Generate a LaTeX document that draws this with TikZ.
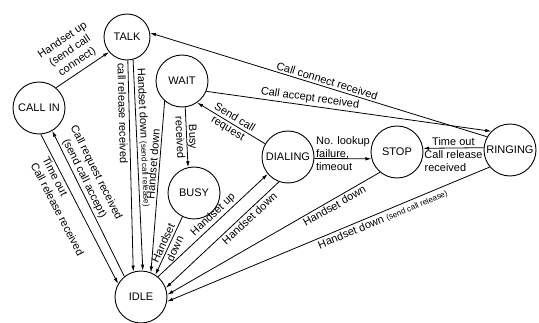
\documentclass[tikz,border=0pt]{standalone}
\usepackage{fontspec}
\setmainfont{Liberation Sans}
\usepackage{tikz}
\usetikzlibrary{arrows.meta}

\newcommand{\smalltxt}[1]{{\fontsize{8}{9}\selectfont #1}}

\tikzset{
  state/.style={circle, draw, fill=white, inner sep=0pt, line width=0.9pt, minimum size=52pt, font=\fontsize{11}{12}\selectfont},
  trans/.style={-{Latex[length=6pt, width=3.5pt]}, line width=0.8pt},
  lbl/.style={font=\fontsize{11}{13}\selectfont, sloped, inner sep=2pt},
}

\begin{document}
\begin{tikzpicture}[x=1pt, y=1pt]
  \useasboundingbox (0,0) rectangle (539,322);
  % Nodes
  \node[state] (callin) at (39,214) {CALL IN};
  \node[state, minimum size=46pt] (talk) at (127,285) {TALK};
  \node[state] (wait) at (182,241) {WAIT};
  \node[state] (busy) at (194,129) {BUSY};
  \node[state] (dialing) at (288,165) {DIALING};
  \node[state] (stop) at (397,170) {STOP};
  \node[state] (ringing) at (510,172) {RINGING};
  \node[state] (idle) at (141,25) {IDLE};
  % Transitions
  \draw[trans] (callin.50) -- (talk.220) node[lbl, midway, above, align=center, inner sep=4pt] {Handset up\\(send call\\connect)};
  \draw[trans] (talk.-88) -- (idle.107) node[lbl, pos=0.25, below] {call release received};
  \draw[trans] (talk.-75) -- (idle.86) node[lbl, pos=0.37, above] {Handset down \smalltxt{(send call release)}};
  \draw[trans] (callin.-86) -- (idle.150) node[lbl, pos=0.44, below, align=left] {Time out\\Call release received};
  \draw[trans, {Latex[length=6pt, width=3.5pt]}-] (callin.-60) -- (idle.129) node[lbl, pos=0.35, above, align=center] {Call request received\\(send call accept)};
  \draw[trans] (wait.229) -- (idle.68) node[lbl, pos=0.37, above] {Handset down};
  \draw[trans] (wait.-83) -- (busy.103) node[lbl, midway, align=center] {Busy\\received};
  \draw[trans] (busy.244) -- (idle.57) node[lbl, midway, align=center] {Handset\\down};
  \draw[trans] (idle.50) -- (dialing.220) node[lbl, pos=0.55, above] {Handset up};
  \draw[trans] (dialing.250) -- (idle.20) node[lbl, pos=0.3, below] {Handset down};
  \draw[trans, {Latex[length=6pt, width=3.5pt]}-] (wait.-55) -- (dialing.150) node[lbl, midway, align=center] {Send call\\request};
  \draw[trans] (dialing.-3) -- (stop.195) node[lbl, midway, align=left, yshift=5pt] {No. lookup\\failure,\\timeout};
  \draw[trans] (ringing.175) -- (stop.8) node[lbl, midway, above] {Time out} node[lbl, midway, below, align=left] {Call release\\received};
  \draw[trans] (stop.230) -- (idle.5) node[lbl, pos=0.23, below] {Handset down};
  \draw[trans] (ringing.220) -- (idle.-10) node[lbl, pos=0.34, below] {Handset down \smalltxt{(send call release)}};
  \draw[trans, {Latex[length=6pt, width=3.5pt]}-] (talk.10) -- (ringing.150) node[lbl, pos=0.52, above] {Call connect received};
  \draw[trans] (wait.-23) -- (ringing.135) node[lbl, pos=0.36, above] {Call accept received};
\end{tikzpicture}
\end{document}
